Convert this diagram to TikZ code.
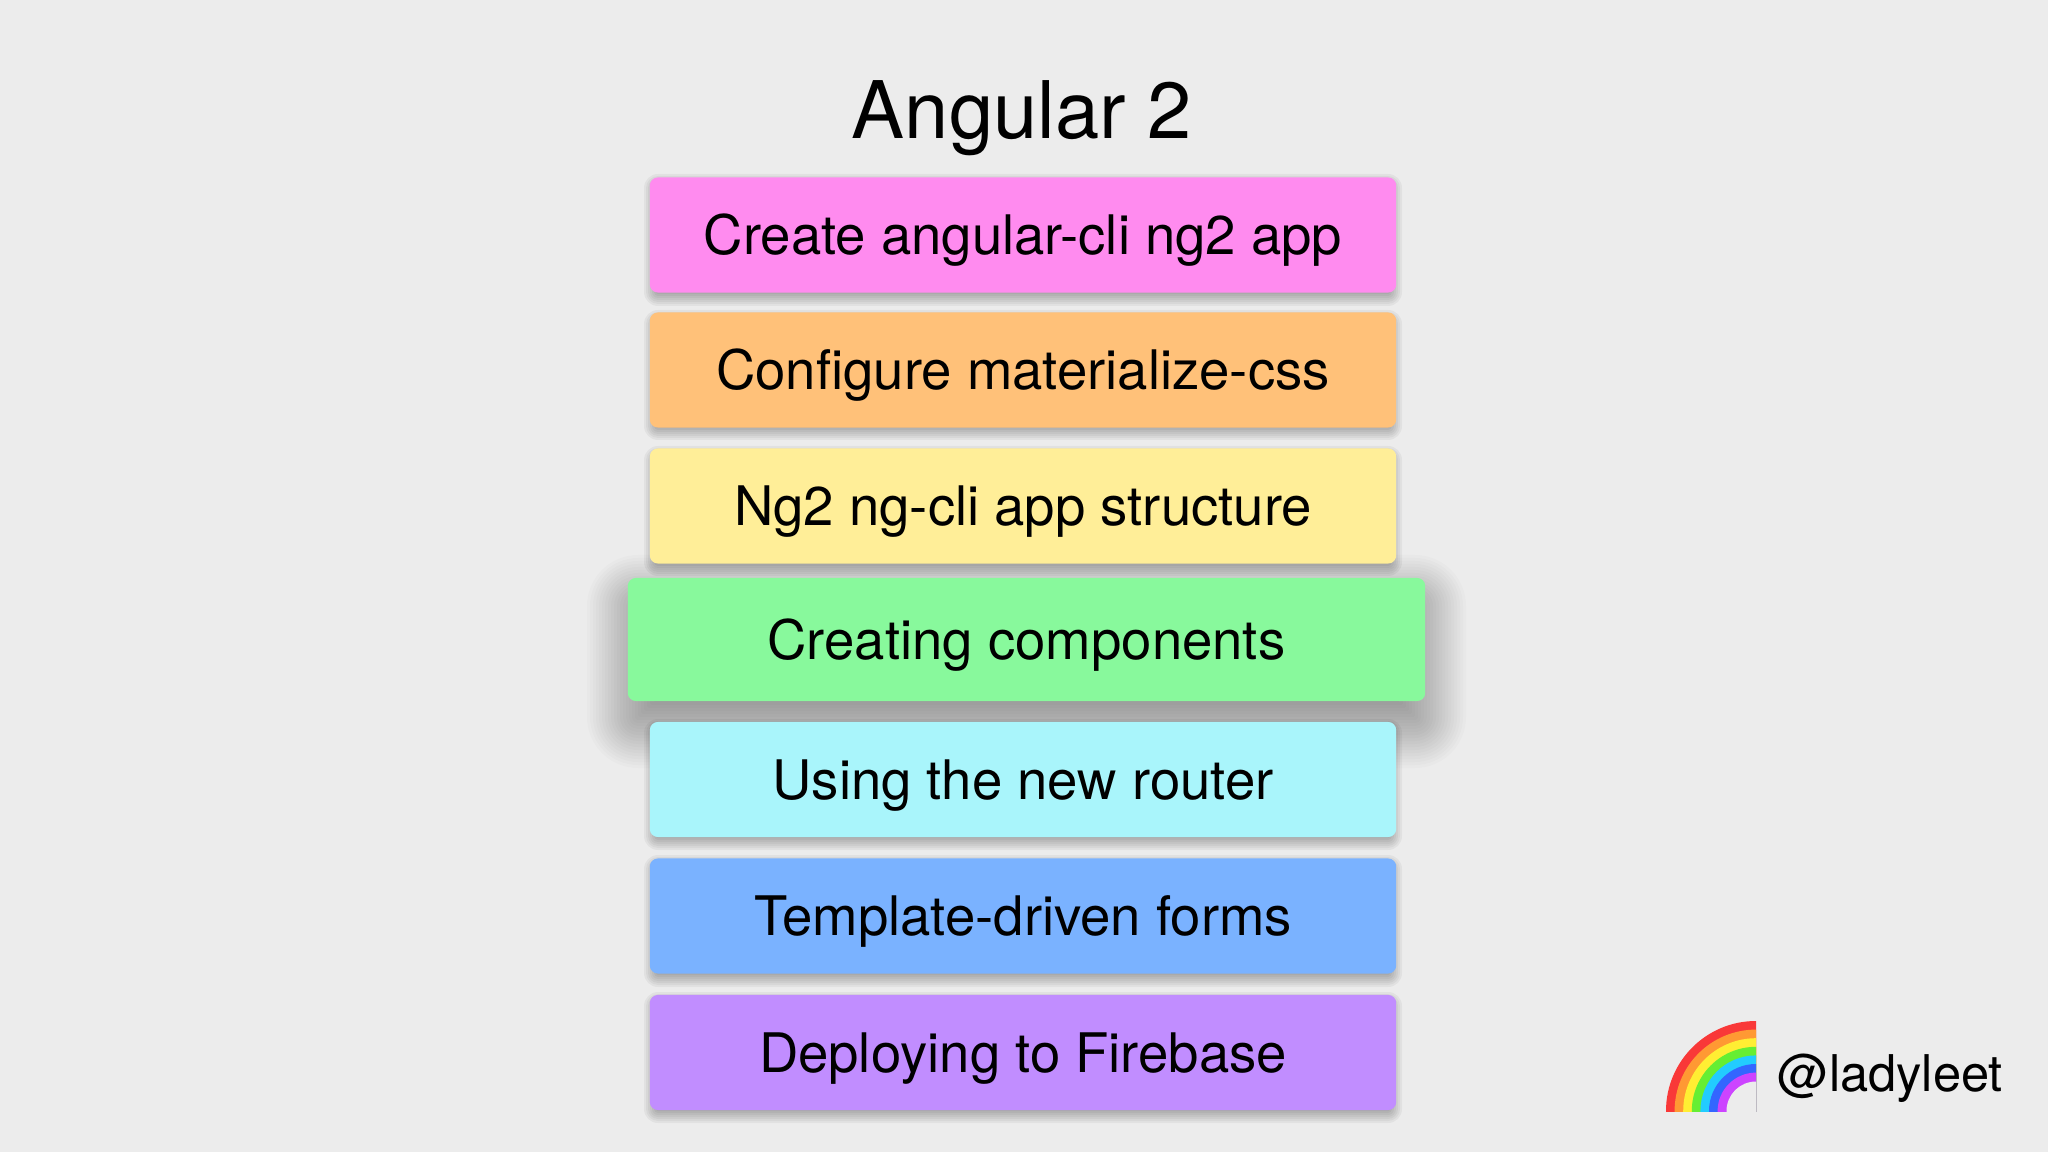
\documentclass[tikz,border=0pt]{standalone}
\usepackage{fontspec}
\setmainfont{TeX Gyre Heros}
\definecolor{bg}{HTML}{ECECEC}
\definecolor{cpink}{HTML}{FF8BEF}
\definecolor{corange}{HTML}{FFC179}
\definecolor{cyellow}{HTML}{FFEE98}
\definecolor{cgreen}{HTML}{88F99C}
\definecolor{ccyan}{HTML}{A9F5FB}
\definecolor{cblue}{HTML}{7AB2FF}
\definecolor{cpurple}{HTML}{C18DFF}
\definecolor{rbred}{HTML}{F93838}
\definecolor{rborange}{HTML}{FF9933}
\definecolor{rbyellow}{HTML}{FFEE33}
\definecolor{rbgreen}{HTML}{66EE33}
\definecolor{rbcyan}{HTML}{22CCFF}
\definecolor{rbblue}{HTML}{3366FF}
\definecolor{rbviolet}{HTML}{CC44FF}
% x1 y1 x2 y2 yoffset blur layers-half opacity shrink
\newcommand\mysoftshadow[9]{%
  \foreach \k in {-#7,...,#7}{
    \pgfmathsetmacro\e{#6*\k/#7}
    \pgfmathsetmacro\rc{max(0.5,(6+\e)*0.2845)}
    \fill[black,opacity=#8,rounded corners=\rc pt]
      ({#1+#9-\e},{#2+#5-\e}) rectangle ({#3-#9+\e},{#4+#5+\e});
  }}
\begin{document}
\begin{tikzpicture}[x=0.01cm,y=-0.01cm,
  stepbox/.style={rectangle,rounded corners=2.3pt,minimum width=7.46cm,minimum height=1.15cm,
    inner sep=0pt,font=\fontsize{15.5pt}{18pt}\selectfont,text height=11.1pt,text depth=0pt},
  bigbox/.style={stepbox,minimum width=7.97cm,minimum height=1.23cm}]
\fill[bg] (0,0) rectangle (2048,1152);
\useasboundingbox (0,0) rectangle (2048,1152);
% shadows
\mysoftshadow{650}{177}{1396}{293}{5}{8}{4}{0.045}{2}
\mysoftshadow{650}{313}{1396}{427}{5}{8}{4}{0.045}{2}
\mysoftshadow{650}{449}{1396}{563}{5}{8}{4}{0.045}{2}
\mysoftshadow{628}{578}{1425}{701}{22}{45}{15}{0.016}{4}
\mysoftshadow{650}{722}{1396}{837}{5}{8}{4}{0.045}{2}
\mysoftshadow{650}{858}{1396}{974}{5}{8}{4}{0.045}{2}
\mysoftshadow{650}{995}{1396}{1110}{5}{8}{4}{0.045}{2}
% title
\node[anchor=base,inner sep=0pt,font=\fontsize{22.6pt}{26pt}\selectfont] (title) at (1022,139) {Angular 2};
% boxes
\node[stepbox,fill=cpink]   (b1) at (1023,235)   {Create angular-cli ng2 app};
\node[stepbox,fill=corange] (b2) at (1023,370)   {Configure materialize-css};
\node[stepbox,fill=cyellow] (b3) at (1023,506)   {Ng2 ng-cli app structure};
\node[bigbox,fill=cgreen]   (b4) at (1026.5,639.5) {Creating components};
\node[stepbox,fill=ccyan]   (b5) at (1023,779.5) {Using the new router};
\node[stepbox,fill=cblue]   (b6) at (1023,916)   {Template-driven forms};
\node[stepbox,fill=cpurple] (b7) at (1023,1052.5){Deploying to Firebase};
% rainbow
\begin{scope}
  \clip (1666,1021) rectangle (1756,1111);
  \fill[rbred]    (1756,1111) circle[radius=90];
  \fill[rborange] (1756,1111) circle[radius=81.4];
  \fill[rbyellow] (1756,1111) circle[radius=72.8];
  \fill[rbgreen]  (1756,1111) circle[radius=64.2];
  \fill[rbcyan]   (1756,1111) circle[radius=55.6];
  \fill[rbblue]   (1756,1111) circle[radius=47];
  \fill[rbviolet] (1756,1111) circle[radius=38.4];
  \fill[bg]       (1756,1111) circle[radius=29.5];
\end{scope}
\node[anchor=base west,inner sep=0pt,font=\fontsize{14.4pt}{17pt}\selectfont] (handle) at (1777,1091) {@ladyleet};
\end{tikzpicture}
\end{document}
